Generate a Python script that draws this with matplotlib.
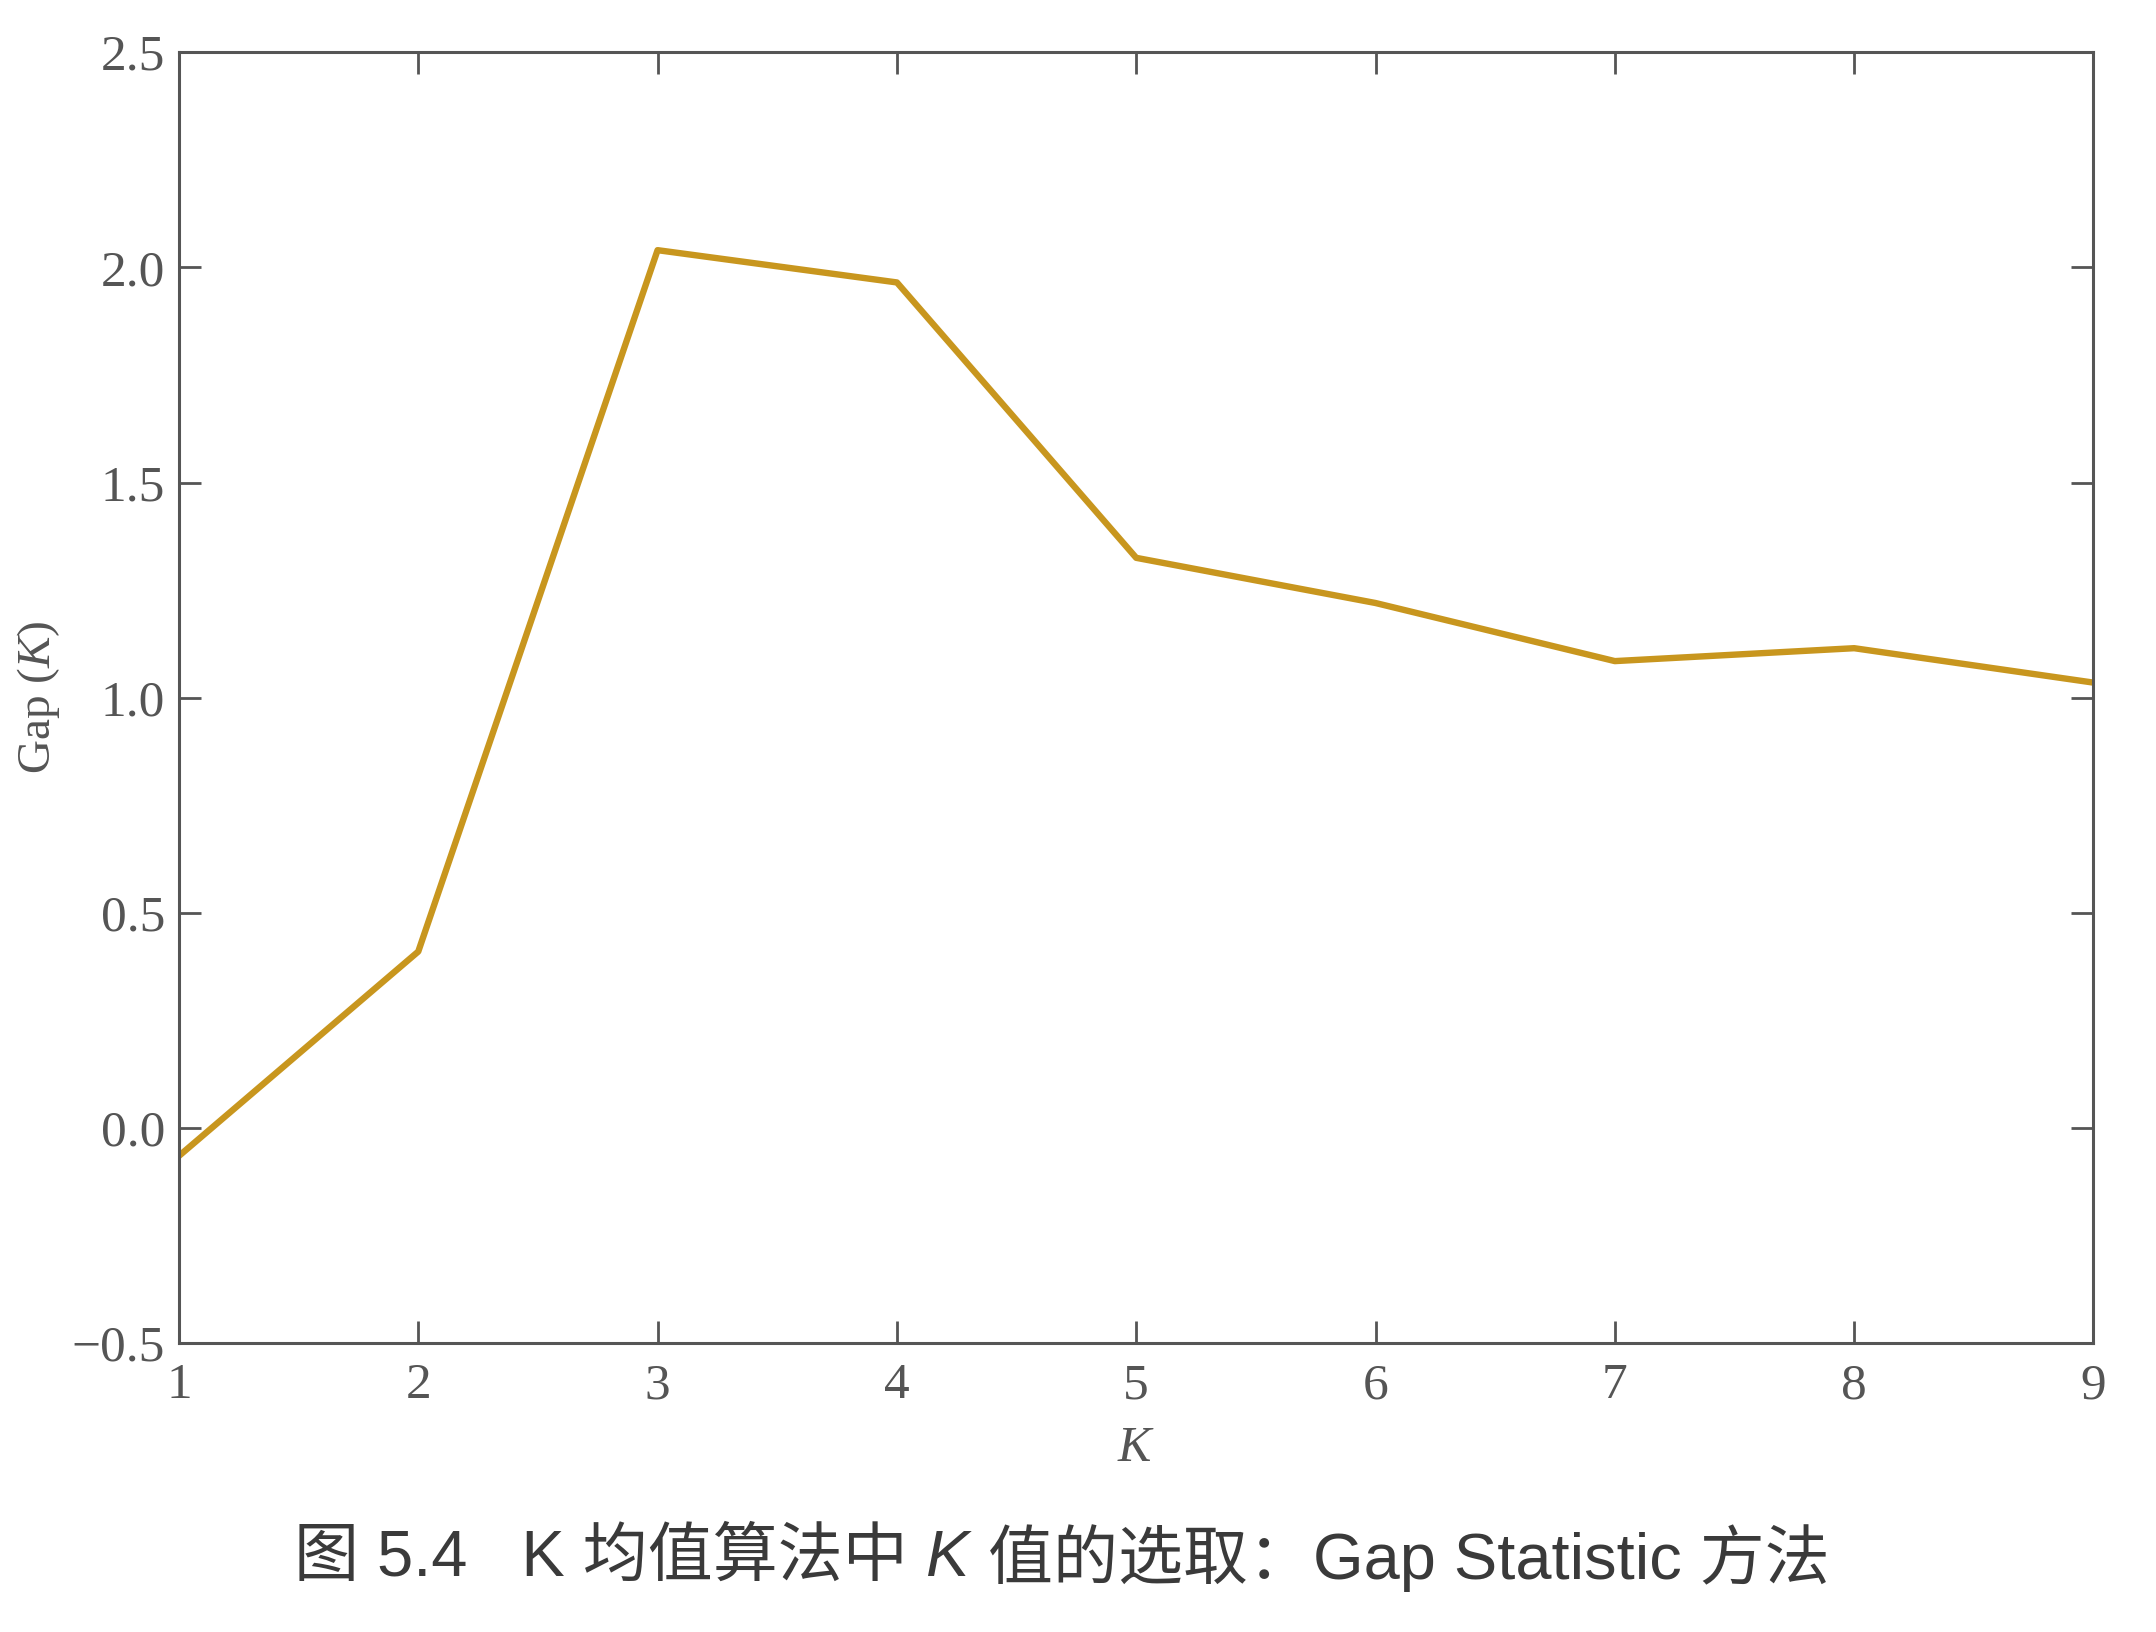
import matplotlib.pyplot as plt

plt.rcParams['mathtext.fontset'] = 'custom'
plt.rcParams['mathtext.it'] = 'Liberation Serif:italic'
plt.rcParams['mathtext.rm'] = 'Liberation Serif'

# Gap statistic for each K
k_values = [1, 2, 3, 4, 5, 6, 7, 8, 9]
gap_values = [-0.065, 0.41, 2.04, 1.965, 1.325, 1.22, 1.085, 1.115, 1.035]

y_ticks = [-0.5, 0.0, 0.5, 1.0, 1.5, 2.0, 2.5]
y_tick_labels = ['\u22120.5', '0.0', '0.5', '1.0', '1.5', '2.0', '2.5']

# caption pieces: plain, italic K, plain
caption_parts = ['图 5.4   K 均值算法中 ', 'K', ' 值的选取：Gap Statistic 方法']

axis_grey = '#555555'

fig = plt.figure(figsize=(10.78, 8.16), dpi=200)
ax = fig.add_axes([0.083, 0.177, 0.888, 0.791])

ax.plot(k_values, gap_values, color='#c8961e', linewidth=2.3)

ax.set_xlim(1, 9)
ax.set_ylim(-0.5, 2.5)
ax.set_xticks(k_values)
ax.set_yticks(y_ticks)
ax.set_yticklabels(y_tick_labels)

for lbl in ax.get_xticklabels() + ax.get_yticklabels():
    lbl.set_family('Liberation Serif')

ax.tick_params(direction='in', top=True, right=True, length=8, width=1,
               colors=axis_grey, labelsize=18.5, pad=5)
ax.tick_params(axis='x', pad=7)
for s in ax.spines.values():
    s.set_color(axis_grey)
    s.set_linewidth(1.1)

ax.set_xlabel('$K$', family='Liberation Serif', fontsize=18, color=axis_grey, labelpad=6)
ax.set_ylabel('Gap ($K$)', family='Liberation Serif', fontsize=17, color=axis_grey)
ax.yaxis.set_label_coords(-0.061, 0.5)

# caption, laid out piece by piece so the CJK fallback works
cap_font = ['Liberation Sans', 'Noto Sans CJK SC', 'DejaVu Sans']
cap_kw = dict(fontsize=23.4, color='#3a3a3a', va='center', ha='left')
renderer = fig.canvas.get_renderer()
pieces = [
    fig.text(0, 0.045, caption_parts[0], family=cap_font, **cap_kw),
    fig.text(0, 0.045, caption_parts[1], family='Liberation Sans', style='italic', **cap_kw),
    fig.text(0, 0.045, caption_parts[2], family=cap_font, **cap_kw),
]
widths = [p.get_window_extent(renderer).width / fig.bbox.width for p in pieces]
x = 0.4925 - sum(widths) / 2
for p, w in zip(pieces, widths):
    p.set_x(x)
    x += w

fig.savefig('out.png', dpi=200, facecolor='white')
